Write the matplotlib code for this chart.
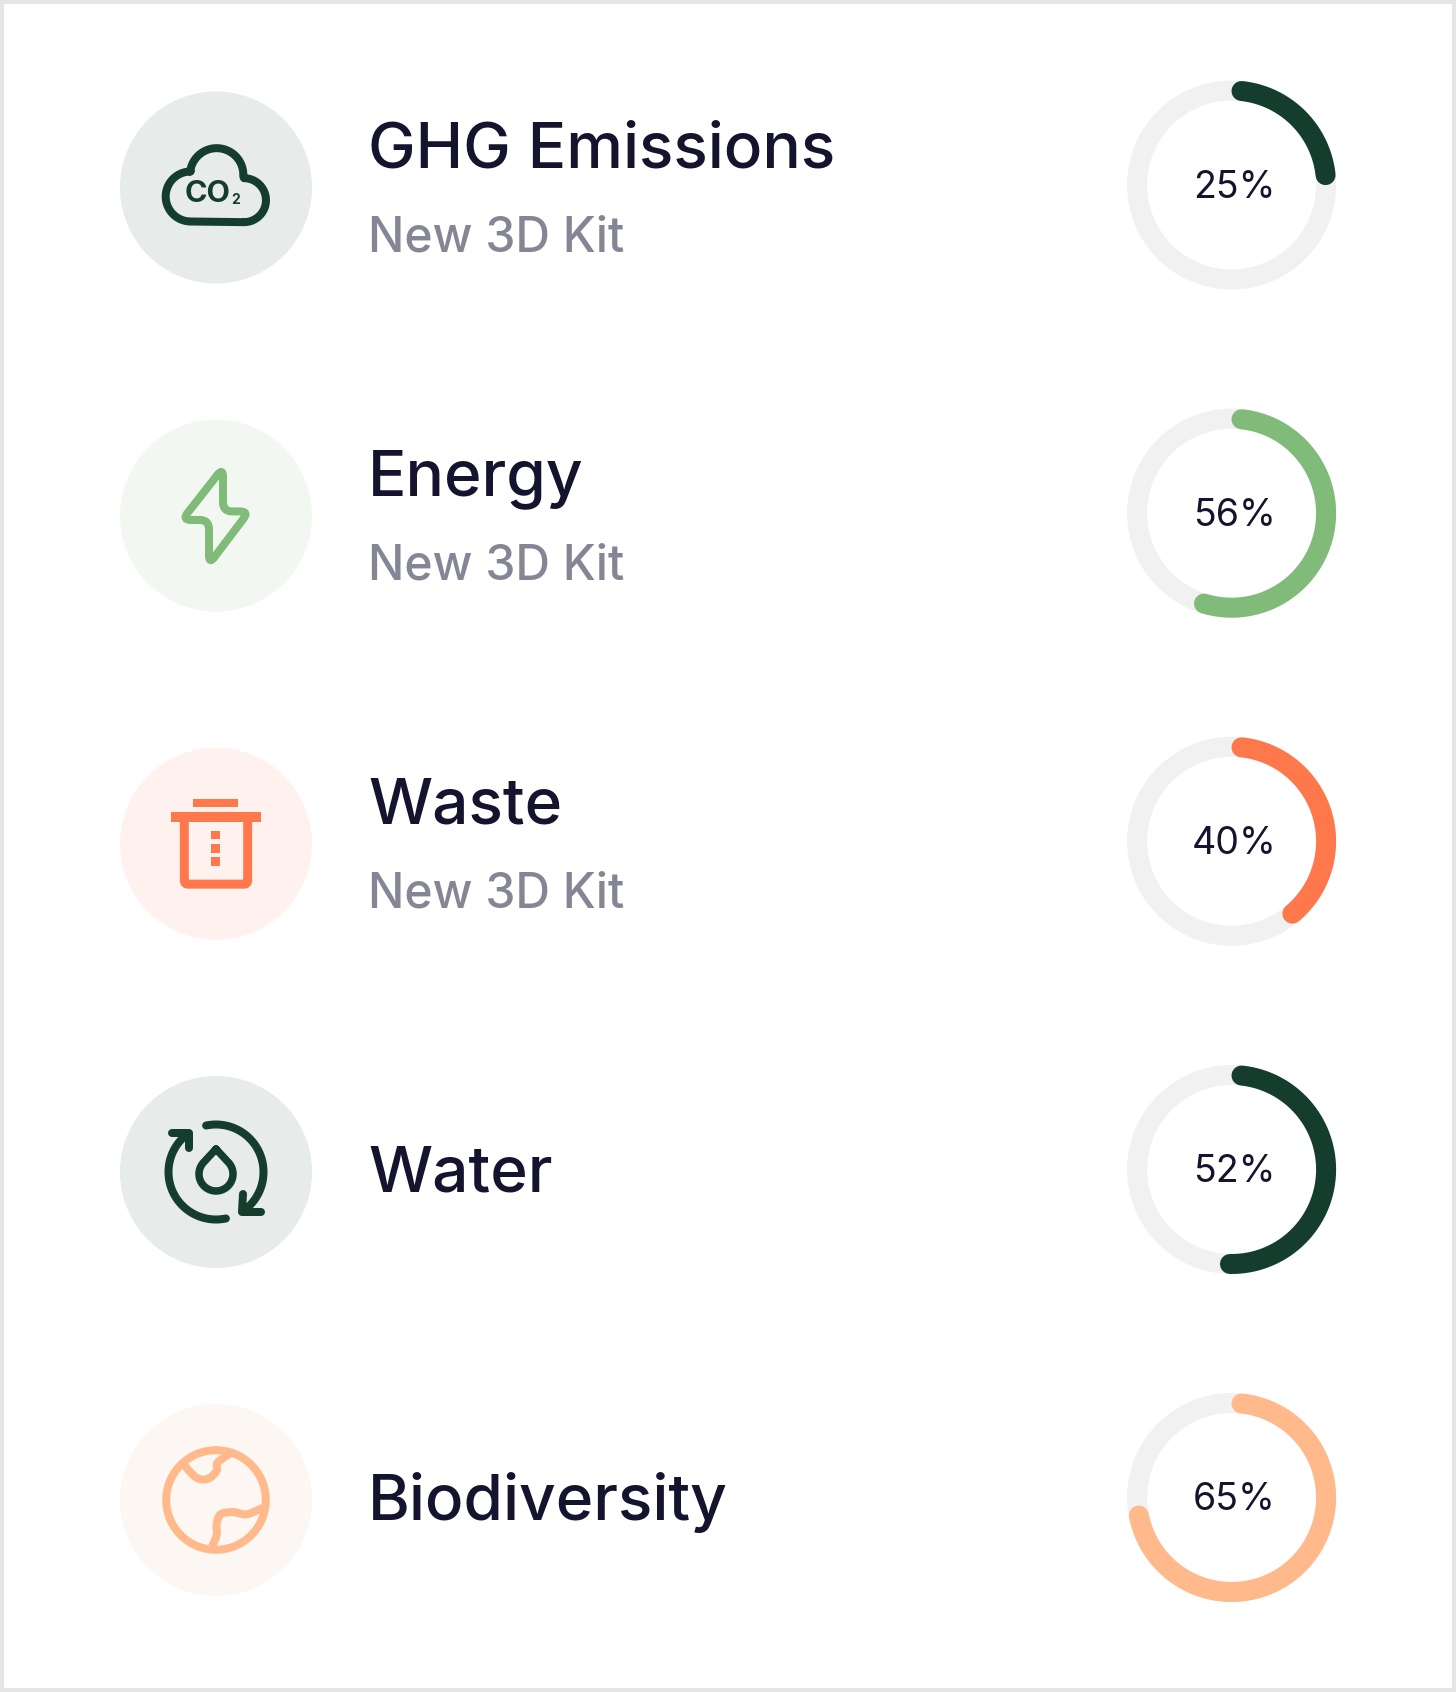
import numpy as np
import matplotlib
matplotlib.use("Agg")
import matplotlib.pyplot as plt
from matplotlib.patches import Circle, Rectangle, PathPatch
from matplotlib.path import Path

titles = ["GHG Emissions", "Energy", "Waste", "Water", "Biodiversity"]
subtitles = ["New 3D Kit", "New 3D Kit", "New 3D Kit", "", ""]
percent_labels = [25, 56, 40, 52, 65]
arc_start_deg = [6, 6, 6, 6, 6]
arc_end_deg = [84, 197, 140, 181, 259]
accent_colors = ["#143d2e", "#80bb7a", "#ff784b", "#143d2e", "#ffb98a"]
badge_colors = ["#e7ebea", "#f2f8f1", "#fff1ed", "#e7ebea", "#fdf7f3"]

W, H = 1456, 1692
TEXT = "#14142e"
SUB = "#858695"
TRACK = "#f1f1f1"
plt.rcParams['font.family'] = ['Inter', 'DejaVu Sans']

fig = plt.figure(figsize=(W / 100, H / 100), dpi=100, facecolor="#e3e5e7")
ax = fig.add_axes([0, 0, 1, 1])
ax.set_xlim(0, W)
ax.set_ylim(H, 0)
ax.axis("off")
ax.add_patch(Rectangle((4, 4), W - 8, H - 8, fc="white", ec="none", zorder=0))

ROW_Y = [187.5, 515.7, 843.8, 1172, 1500]
BADGE_X, BADGE_R = 216, 96
RING_X, RING_DY, RING_R, RING_W = 1231.6, -2.5, 94.5, 20
TEXT_X = 368


def stroke(verts, codes, color, lw=8, cx=0, cy=0, cap="round", join="round", z=3):
    v = np.asarray(verts, float) + [cx, cy]
    p = Path(v, codes)
    ax.add_patch(PathPatch(p, fc="none", ec=color, lw=lw * 0.72, capstyle=cap, joinstyle=join, zorder=z))


def polyline(pts, color, cx, cy, lw=8, closed=False):
    pts = list(pts)
    if closed:
        pts = pts + [pts[0]]
    codes = [Path.MOVETO] + [Path.LINETO] * (len(pts) - 1)
    stroke(pts, codes, color, lw, cx, cy)


def smooth(pts, color, cx, cy, lw=8):
    # Catmull-Rom through hand-read icon points
    p = np.asarray(pts, float)
    verts = [p[0]]
    codes = [Path.MOVETO]
    for i in range(len(p) - 1):
        p0 = p[max(i - 1, 0)]
        p1, p2 = p[i], p[i + 1]
        p3 = p[min(i + 2, len(p) - 1)]
        verts += [p1 + (p2 - p0) / 6, p2 - (p3 - p1) / 6, p2]
        codes += [Path.CURVE4] * 3
    stroke(verts, codes, color, lw, cx, cy)


def rounded_poly(pts, r, color, cx, cy, lw=8):
    p = np.asarray(pts, float)
    n = len(p)
    verts, codes = [], []
    for i in range(n):
        a, b, c = p[i - 1], p[i], p[(i + 1) % n]
        u = (a - b) / np.linalg.norm(a - b)
        w = (c - b) / np.linalg.norm(c - b)
        verts += [b + u * r, b, b + w * r]
        codes += [Path.MOVETO if i == 0 else Path.LINETO, Path.CURVE3, Path.CURVE3]
    verts.append(verts[0])
    codes.append(Path.LINETO)
    stroke(verts, codes, color, lw, cx, cy)


def arc_pts(r, a0, a1, n=80, c=(0, 0)):
    t = np.radians(np.linspace(a0, a1, n))
    return np.column_stack([c[0] + r * np.sin(t), c[1] - r * np.cos(t)])


def icon_cloud(cx, cy, col):
    # lobes read in zoomed units (3x), centred on (348, 353)
    right = arc_pts(66, 180, 0, 50, c=(432, 391))
    top = arc_pts(80, 93, -83, 70, c=(350, 315))
    left = arc_pts(75, 0, -180, 50, c=(272, 380))
    pts = (np.vstack([right, top, left, right[:1]]) - [348, 353]) / 3
    polyline(pts, col, cx, cy, 8)
    ax.text(cx - 8, cy + 6, "CO", fontsize=22, fontweight="bold", color=col, ha="center", va="center", zorder=4)
    ax.text(cx + 20, cy + 12, "2", fontsize=10, fontweight="bold", color=col, ha="center", va="center", zorder=4)


def icon_bolt(cx, cy, col):
    z = lambda x, y: ((x - 348) / 3, (y - 324) / 2.8)
    pts = [(369, 190), (369, 312), (447, 312), (327, 460), (327, 336), (246, 336)]
    rounded_poly([z(*q) for q in pts], 9, col, cx, cy, 8)


def icon_trash(cx, cy, col):
    z = lambda x, y: (cx + (x - 348) / 3, cy + (y - 1243) / 2.8)

    def box(x0, y0, x1, y1):
        a, b = z(x0, y0), z(x1, y1)
        ax.add_patch(Rectangle(a, b[0] - a[0], b[1] - a[1], fc=col, ec="none", zorder=3))

    box(280, 1117, 415, 1141)
    box(213, 1154, 484, 1181)
    box(334, 1206, 361, 1230)
    box(334, 1243, 361, 1268)
    box(334, 1281, 361, 1306)
    a, b = z(253, 1170), z(443, 1356)
    v = [a, (a[0], b[1] - 4), (a[0], b[1]), (a[0] + 4, b[1]), (b[0] - 4, b[1]), (b[0], b[1]), (b[0], b[1] - 4), (b[0], a[1])]
    c = [Path.MOVETO, Path.LINETO, Path.CURVE3, Path.CURVE3, Path.LINETO, Path.CURVE3, Path.CURVE3, Path.LINETO]
    stroke(v, c, col, 9, join="miter", cap="butt")


def icon_water(cx, cy, col):
    polyline(arc_pts(47.5, -12, 143), col, cx, cy, 8)
    polyline(arc_pts(47.5, 168, 323), col, cx, cy, 8)
    polyline([(27, 22), (26, 40), (45, 40)], col, cx, cy, 8)
    polyline([(-27, -24), (-27, -39), (-44, -39)], col, cx, cy, 8)
    drop = [(0, -23)] + [tuple(q) for q in arc_pts(17, 50, 310, 50, c=(0, 2))]
    polyline(drop, col, cx, cy, 7.5, closed=True)


def icon_globe(cx, cy, col):
    polyline(arc_pts(49.8, 0, 360, 160), col, cx, cy, 8)
    z = lambda x, y: ((x - 348) / 3, (y - 1232) / 2.8)
    a = [(250, 1132), (290, 1170), (325, 1172), (350, 1150), (352, 1128), (385, 1105)]
    b = [(485, 1255), (440, 1272), (400, 1266), (362, 1272), (350, 1300), (350, 1330), (335, 1365)]
    smooth([z(*q) for q in a], col, cx, cy, 8)
    smooth([z(*q) for q in b], col, cx, cy, 8)


icons = [icon_cloud, icon_bolt, icon_trash, icon_water, icon_globe]

for i, y in enumerate(ROW_Y):
    col = accent_colors[i]
    ax.add_patch(Circle((BADGE_X, y), BADGE_R, fc=badge_colors[i], ec="none", zorder=1))
    icons[i](BADGE_X, y, col)

    base = y - 20 if subtitles[i] else y + 20
    ax.text(TEXT_X, base, titles[i], fontsize=46, fontweight="medium", color=TEXT, va="baseline", ha="left", zorder=4)
    if subtitles[i]:
        ax.text(TEXT_X, y + 64, subtitles[i], fontsize=34.6, fontweight="medium", color=SUB, va="baseline", ha="left", zorder=4)

    ry = y + RING_DY
    ax.add_patch(Circle((RING_X, ry), RING_R, fc="none", ec=TRACK, lw=RING_W * 0.72, zorder=2))
    ax.plot(*arc_pts(RING_R, arc_start_deg[i], arc_end_deg[i], 200, c=(RING_X, ry)).T, color=col,
            lw=RING_W * 0.72, solid_capstyle="round", zorder=3)
    ax.text(RING_X + 2.5, ry + 13, f"{percent_labels[i]}%", fontsize=27, color=TEXT, ha="center", va="baseline", zorder=4)

fig.savefig("out.png", dpi=100, facecolor=fig.get_facecolor())
